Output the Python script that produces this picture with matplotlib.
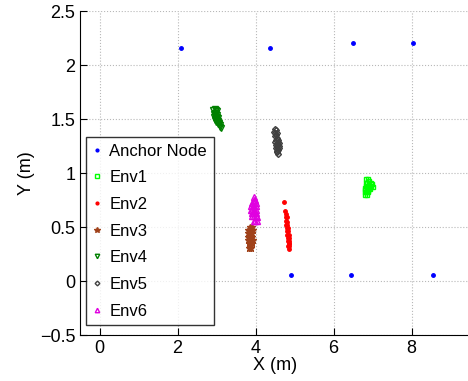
import matplotlib
matplotlib.use("Agg")
import matplotlib.pyplot as plt

plt.rcParams['font.family'] = ['Liberation Sans', 'DejaVu Sans']

# anchor nodes
anchor_x = [2.08, 4.38, 6.49, 8.03, 4.92, 6.44, 8.56]
anchor_y = [2.16, 2.16, 2.20, 2.20, 0.055, 0.055, 0.055]

# Env1 (light green squares)
env1_x = [6.84, 6.88, 6.92, 6.83, 6.87, 6.91, 6.95, 6.99, 6.84, 6.88, 6.92, 6.96, 7.00,
          6.82, 6.86, 6.90, 6.94, 6.81, 6.85, 6.89, 6.80, 6.84, 6.88, 6.82, 6.86]
env1_y = [0.94, 0.94, 0.93, 0.91, 0.91, 0.91, 0.91, 0.90, 0.88, 0.88, 0.88, 0.88, 0.87,
          0.86, 0.86, 0.86, 0.85, 0.84, 0.84, 0.83, 0.82, 0.82, 0.82, 0.80, 0.80]

# Env2 (red dots)
env2_x = [4.72, 4.76, 4.78, 4.77, 4.80, 4.78, 4.81, 4.79, 4.82, 4.80, 4.83, 4.81,
          4.84, 4.82, 4.85, 4.83, 4.86, 4.84, 4.87, 4.85, 4.86, 4.84, 4.87, 4.86]
env2_y = [0.73, 0.65, 0.62, 0.59, 0.59, 0.56, 0.55, 0.52, 0.52, 0.49, 0.49, 0.46,
          0.46, 0.43, 0.43, 0.40, 0.40, 0.37, 0.37, 0.35, 0.34, 0.32, 0.32, 0.30]

# Env3 (brown stars)
env3_x = [3.86, 3.90, 3.82, 3.86, 3.90, 3.94, 3.80, 3.84, 3.88, 3.92, 3.80, 3.84, 3.88,
          3.92, 3.81, 3.85, 3.89, 3.93, 3.83, 3.87, 3.91, 3.85, 3.89, 3.84, 3.88]
env3_y = [0.50, 0.50, 0.47, 0.47, 0.47, 0.47, 0.44, 0.44, 0.44, 0.44, 0.41, 0.41, 0.41,
          0.41, 0.38, 0.38, 0.38, 0.38, 0.35, 0.35, 0.35, 0.33, 0.33, 0.31, 0.31]

# Env4 (dark green triangles down)
env4_x = [2.92, 2.95, 2.98, 3.01, 2.93, 2.96, 2.99, 3.02, 2.94, 2.97, 3.00, 3.03, 2.96,
          2.99, 3.02, 3.05, 2.98, 3.01, 3.04, 3.07, 3.03, 3.06, 3.09, 3.08, 3.11]
env4_y = [1.58, 1.59, 1.58, 1.57, 1.55, 1.56, 1.55, 1.54, 1.52, 1.53, 1.52, 1.51, 1.49,
          1.50, 1.49, 1.48, 1.47, 1.48, 1.47, 1.46, 1.45, 1.45, 1.44, 1.43, 1.42]

# Env5 (dark grey diamonds)
env5_x = [4.50, 4.53, 4.48, 4.51, 4.54, 4.50, 4.53, 4.52, 4.55, 4.58, 4.51, 4.54, 4.57,
          4.60, 4.52, 4.55, 4.58, 4.61, 4.53, 4.56, 4.59, 4.54, 4.57, 4.56, 4.58]
env5_y = [1.41, 1.40, 1.38, 1.37, 1.37, 1.34, 1.35, 1.31, 1.32, 1.31, 1.29, 1.28, 1.29,
          1.28, 1.26, 1.25, 1.26, 1.25, 1.23, 1.22, 1.23, 1.20, 1.21, 1.19, 1.18]

# Env6 (magenta triangles up)
env6_x = [3.97, 3.95, 3.99, 3.92, 3.96, 4.00, 3.89, 3.93, 3.97, 4.01, 3.88, 3.92, 3.96,
          4.00, 3.90, 3.94, 3.98, 4.02, 3.92, 3.96, 4.00, 4.04, 3.95, 3.99, 4.03]
env6_y = [0.78, 0.75, 0.75, 0.72, 0.72, 0.72, 0.69, 0.69, 0.69, 0.69, 0.66, 0.66, 0.66,
          0.66, 0.63, 0.63, 0.63, 0.63, 0.60, 0.60, 0.60, 0.59, 0.56, 0.56, 0.56]

fig = plt.figure(figsize=(4.68, 3.81), dpi=100)
ax = fig.add_axes([80 / 468, 46 / 381, 390 / 468, 324 / 381])

ax.plot(anchor_x, anchor_y, '.', color='#0000ff', ms=5, label='Anchor Node')
ax.plot(env1_x, env1_y, 's', color='#00ff00', mfc='none', ms=3, mew=1, label='Env1')
ax.plot(env2_x, env2_y, '.', color='#ff0000', ms=5, label='Env2')
ax.plot(env3_x, env3_y, '*', color='#a0421b', ms=5, label='Env3')
ax.plot(env4_x, env4_y, 'v', color='#008000', mfc='none', ms=4, mew=1, label='Env4')
ax.plot(env5_x, env5_y, 'D', color='#404040', mfc='none', ms=3, mew=1, label='Env5')
ax.plot(env6_x, env6_y, '^', color='#e000e0', mfc='none', ms=4, mew=1, label='Env6')

ax.set_xlim(-0.5, 9.5)
ax.set_ylim(-0.5, 2.5)
ax.set_xticks([0, 2, 4, 6, 8])
ax.set_yticks([-0.5, 0, 0.5, 1, 1.5, 2, 2.5])
ax.set_yticklabels(['\u22120.5', '0', '0.5', '1', '1.5', '2', '2.5'])
ax.tick_params(direction='in', length=5, labelsize=13, width=0.8)
ax.grid(True, linestyle=':', color='#b8b8b8', linewidth=0.8)
ax.spines['top'].set_visible(False)
ax.spines['right'].set_visible(False)
ax.set_xlabel('X (m)', fontsize=13, labelpad=0)
ax.set_ylabel('Y (m)', fontsize=13, labelpad=3)

leg = ax.legend(loc='upper left', bbox_to_anchor=(86 / 468, 244 / 381),
                bbox_transform=fig.transFigure, fontsize=12, frameon=True,
                fancybox=False, edgecolor='black', handlelength=0.5,
                handletextpad=0.5, labelspacing=0.7, borderpad=0.4,
                markerscale=0.8, borderaxespad=0)
leg.get_frame().set_linewidth(1.0)

fig.savefig('out.png', dpi=100)
